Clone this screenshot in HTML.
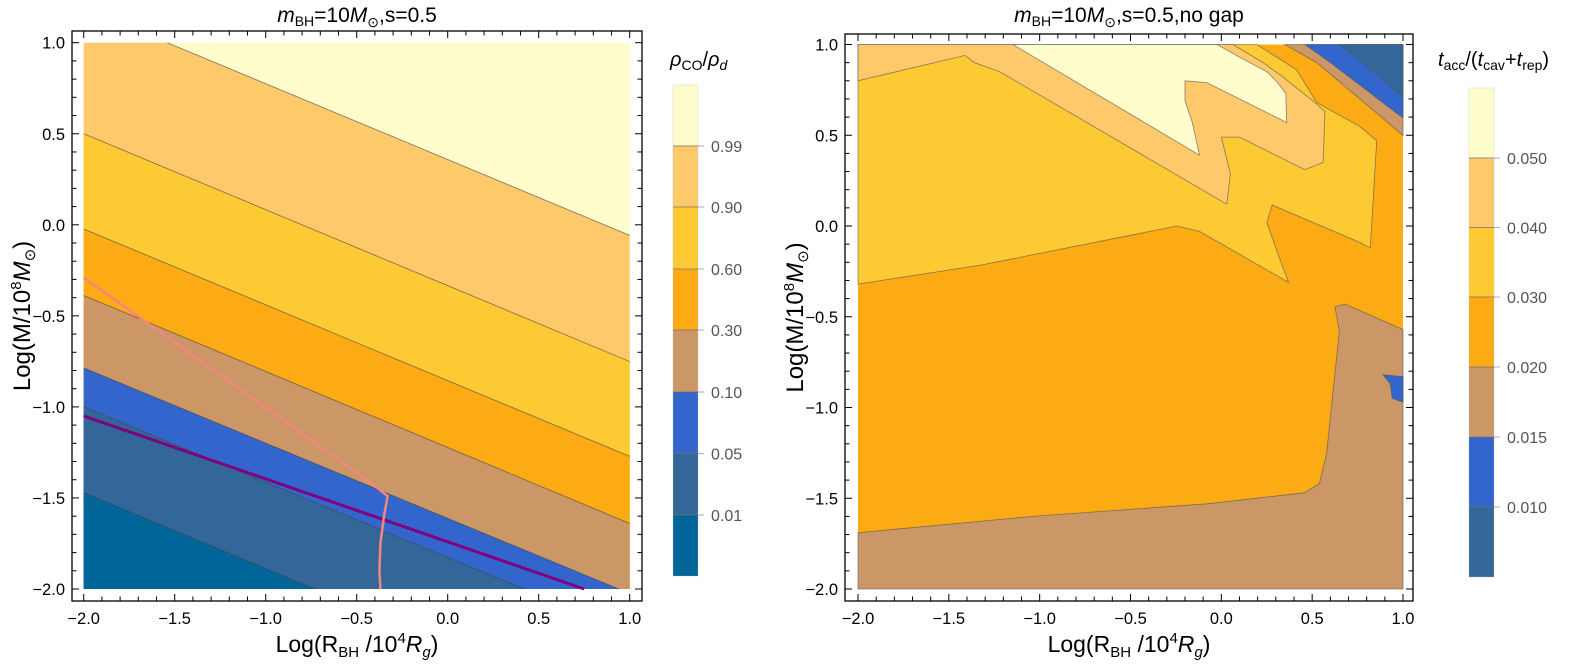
<!DOCTYPE html>
<html><head><meta charset="utf-8"><style>
html,body{margin:0;padding:0;background:#fff;}
svg{display:block;font-family:"Liberation Sans",sans-serif;}
</style></head><body>
<svg id="chart" width="1570" height="664" viewBox="0 0 1570 664" xmlns="http://www.w3.org/2000/svg">
<g id="left"></g>
<g id="right"></g>
</svg>
<script>
// ---------- data ----------
const levelsLeft = ["0.99","0.90","0.60","0.30","0.10","0.05","0.01"];
const levelsRight = ["0.050","0.040","0.030","0.020","0.015","0.010"];
const colorsLeft = ["#fffdcb","#fec96b","#fdca33","#fdab14","#cc9767","#3366cc","#336699","#006699"];
const colorsRight = ["#fffdcb","#fec96b","#fdca33","#fdab14","#cc9767","#3366cc","#336699"];
const xTicks = [-2.0,-1.5,-1.0,-0.5,0.0,0.5,1.0];
const yTicks = [-2.0,-1.5,-1.0,-0.5,0.0,0.5,1.0];
// left panel boundary lines (start point, end point) in data coords, top -> bottom
const leftBoundStart = [[-1.54,1.0],[-2,0.50],[-2,-0.023],[-2,-0.388],[-2,-0.786],[-2,-1.0],[-2,-1.47]];
const leftBoundEnd   = [[1,-0.058],[1,-0.751],[1,-1.272],[1,-1.64],[0.94,-2],[0.42,-2],[-0.73,-2]];
const purpleLine = [[-2,-1.05],[0.75,-2]];
const pinkLine = [[-2,-0.29],[-1.2,-0.86],[-0.6,-1.29],[-0.38,-1.45],[-0.33,-1.49],[-0.35,-1.6],[-0.37,-1.75],[-0.375,-1.9],[-0.37,-2]];
// right panel regions (data coords), drawn over orange base
const rTan = [[-2,-2],[1,-2],[1,-0.57],[0.68,-0.43],[0.625,-0.445],[0.65,-0.58],[0.62,-0.86],[0.58,-1.25],[0.54,-1.42],[0.456,-1.47],[-0.07,-1.53],[-1.04,-1.6],[-2,-1.69]];
const rBlueSmall = [[0.89,-0.82],[1,-0.83],[1,-0.97],[0.94,-0.95],[0.93,-0.87]];
const rGold = [[-2,-0.32],[-2,1],[0.195,1],[0.415,0.86],[0.525,0.68],[0.76,0.55],[0.855,0.47],[0.82,-0.12],[0.76,-0.09],[0.28,0.115],[0.25,0.02],[0.31,-0.15],[0.37,-0.31],[-0.12,-0.03],[-0.245,0.0],[-1.32,-0.215]];
const rLight = [[-2,1],[0.064,1],[0.23,0.9],[0.34,0.82],[0.515,0.68],[0.57,0.63],[0.56,0.35],[0.46,0.31],[0.1,0.49],[0.0,0.49],[0.05,0.29],[0.03,0.12],[-1.22,0.85],[-1.36,0.9],[-1.41,0.94],[-2,0.8]];
const rPale = [[-1.147,1],[-0.024,1],[0.1,0.93],[0.25,0.85],[0.31,0.79],[0.355,0.73],[0.36,0.57],[-0.08,0.79],[-0.2,0.8],[-0.2,0.69],[-0.16,0.57],[-0.12,0.39]];
const rTopTan = [[0.35,1],[1,1],[1,0.5],[0.525,0.9]];
const rTopBlue = [[0.46,1],[1,1],[1,0.595],[0.6,0.9]];
const rTopSteel = [[0.65,1],[1,1],[1,0.71],[0.8,0.88]];

const NS="http://www.w3.org/2000/svg";
function mk(parent,tag,attrs){const e=document.createElementNS(NS,tag);for(const k in attrs)e.setAttribute(k,attrs[k]);parent.appendChild(e);return e;}

function makeAxes(P){
  P.sx=v=>P.x0+(v+2)/3*(P.x1-P.x0);
  P.sy=v=>P.y1-(v+2)/3*(P.y1-P.y0);
  return P;
}
const L=makeAxes({x0:83.7,x1:629.7,y0:42.7,y1:589,fx0:72,fx1:642,fy0:31,fy1:601});
const R=makeAxes({x0:858,x1:1403,y0:44.5,y1:589,fx0:845,fx1:1413,fy0:34,fy1:601});

function pts(P,arr){return arr.map(p=>P.sx(p[0]).toFixed(1)+","+P.sy(p[1]).toFixed(1)).join(" ");}

function region(g,P,arr,color,name){
  const e=mk(g,"polygon",{points:pts(P,arr),fill:color,stroke:"#555",'stroke-width':0.8,'stroke-opacity':0.7});
  
  
  return e;
}

function frame(g,P,title){
  const f=mk(g,"rect",{x:P.fx0,y:P.fy0,width:P.fx1-P.fx0,height:P.fy1-P.fy0,fill:"none",stroke:"#000",'stroke-width':1.3});
  
  
  for(let i=0;i<=30;i++){
    const v=-2+i*0.1; const maj=(i%5===0); const len=maj?7:4.5;
    const x=P.sx(v), y=P.sy(v);
    mk(g,"line",{x1:x,y1:P.fy1,x2:x,y2:P.fy1-len,stroke:"#000",'stroke-width':1});
    mk(g,"line",{x1:x,y1:P.fy0,x2:x,y2:P.fy0+len,stroke:"#000",'stroke-width':1});
    mk(g,"line",{x1:P.fx0,y1:y,x2:P.fx0+len,y2:y,stroke:"#000",'stroke-width':1});
    mk(g,"line",{x1:P.fx1,y1:y,x2:P.fx1-len,y2:y,stroke:"#000",'stroke-width':1});
  }
  xTicks.forEach(v=>{
    const t=mk(g,"text",{x:P.sx(v),y:P.fy1+23,'text-anchor':'middle','font-size':16.5,fill:"#000"});
    t.textContent=(v<0?"\u2212":"")+Math.abs(v).toFixed(1);
    
    
  });
  yTicks.forEach(v=>{
    const t=mk(g,"text",{x:P.fx0-7,y:P.sy(v)+6,'text-anchor':'end','font-size':16.5,fill:"#000"});
    t.textContent=(v<0?"\u2212":"")+Math.abs(v).toFixed(1);
    
    
  });
  const cx=(P.fx0+P.fx1)/2;
  const tt=mk(g,"text",{x:cx,y:22,'text-anchor':'middle','font-size':21,fill:"#000"});
  tt.innerHTML=title;
  
  
  const xl=mk(g,"text",{x:cx,y:652,'text-anchor':'middle','font-size':23,fill:"#000"});
  xl.innerHTML='Log(R<tspan font-size="15" dy="5">BH</tspan><tspan dy="-5"> /10</tspan><tspan font-size="15" dy="-9">4</tspan><tspan dy="9" font-style="italic">R</tspan><tspan font-size="15" dy="5" font-style="italic">g</tspan><tspan dy="-5">)</tspan>';
  
  
  const yx=P.fx0-42, yy=(P.fy0+P.fy1)/2;
  const yl=mk(g,"text",{x:yx,y:yy,'text-anchor':'middle','font-size':24,fill:"#000",transform:`rotate(-90 ${yx} ${yy})`});
  yl.innerHTML='Log(M/10<tspan font-size="15" dy="-9">8</tspan><tspan dy="9" font-style="italic">M</tspan><tspan font-size="15" dy="5">\u2299</tspan><tspan dy="-5">)</tspan>';
  
  
}

function colorbar(g,x,top,bot,bounds,labels,colors,title,tx){
  const ys=[top,...bounds,bot];
  for(let i=0;i<colors.length;i++){
    const r=mk(g,"rect",{x:x,y:ys[i],width:25,height:ys[i+1]-ys[i],fill:colors[i],stroke:"#bbb",'stroke-width':0.3});
    
    
  }
  bounds.forEach((b,i)=>{
    mk(g,"line",{x1:x,y1:b,x2:x+25,y2:b,stroke:"#555",'stroke-width':0.8,'stroke-opacity':0.7});
    mk(g,"line",{x1:x+25,y1:b,x2:x+31,y2:b,stroke:"#999",'stroke-width':0.8});
    const t=mk(g,"text",{x:x+38,y:b+6,'font-size':16,fill:"#555"});
    t.textContent=labels[i];
    
    
  });
  const ct=mk(g,"text",{x:tx,y:66,'font-size':20,fill:"#000"});
  ct.innerHTML=title;
  
  
}

// ---------- left panel ----------
const gl=document.getElementById('left');
const bgL=mk(gl,"rect",{x:L.x0,y:L.y0,width:L.x1-L.x0,height:L.y1-L.y0,fill:colorsLeft[0]});


leftBoundStart.forEach((s,i)=>{
  const e=leftBoundEnd[i];
  const poly=[s,e];
  if(e[0]>=1) poly.push([1,-2]);
  poly.push([-2,-2]);
  if(s[0]>-2) poly.push([-2,1]);
  const el=mk(gl,"polygon",{points:pts(L,poly),fill:colorsLeft[i+1],stroke:"none"});
  
  
  const ln=mk(gl,"line",{x1:L.sx(s[0]),y1:L.sy(s[1]),x2:L.sx(e[0]),y2:L.sy(e[1]),stroke:"#444",'stroke-width':0.8,'stroke-opacity':0.7});
  
  
});
const pl=mk(gl,"polyline",{points:pts(L,purpleLine),fill:"none",stroke:"#800080",'stroke-width':3});


const pk=mk(gl,"polyline",{points:pts(L,pinkLine),fill:"none",stroke:"#f4877f",'stroke-width':2.5,'stroke-linejoin':'round'});


frame(gl,L,'<tspan font-style="italic">m</tspan><tspan font-size="14" dy="4">BH</tspan><tspan dy="-4">=10</tspan><tspan font-style="italic">M</tspan><tspan font-size="14" dy="5">\u2299</tspan><tspan dy="-5">,s=0.5</tspan>');
colorbar(gl,673,85,576,[146,207,269,330,392,453.6,515],levelsLeft,colorsLeft,'<tspan font-style="italic">\u03c1</tspan><tspan font-size="14" dy="4">CO</tspan><tspan dy="-4">/</tspan><tspan font-style="italic">\u03c1</tspan><tspan font-size="14" dy="4" font-style="italic">d</tspan>',670);

// ---------- right panel ----------
const gr=document.getElementById('right');
const bgR=mk(gr,"rect",{x:R.x0,y:R.y0,width:R.x1-R.x0,height:R.y1-R.y0,fill:colorsRight[3]});


region(gr,R,rTan,colorsRight[4],'region-tan');
region(gr,R,rBlueSmall,colorsRight[5],'region-blue-small');
region(gr,R,rGold,colorsRight[2],'region-gold');
region(gr,R,rLight,colorsRight[1],'region-light-orange');
region(gr,R,rPale,colorsRight[0],'region-pale');
region(gr,R,rTopTan,colorsRight[4],'region-top-tan');
region(gr,R,rTopBlue,colorsRight[5],'region-top-blue');
region(gr,R,rTopSteel,colorsRight[6],'region-top-steel');
frame(gr,R,'<tspan font-style="italic">m</tspan><tspan font-size="14" dy="4">BH</tspan><tspan dy="-4">=10</tspan><tspan font-style="italic">M</tspan><tspan font-size="14" dy="5">\u2299</tspan><tspan dy="-5">,s=0.5,no gap</tspan>');
colorbar(gr,1469,88,577,[158,227.5,297,367,437,507],levelsRight,colorsRight,'<tspan font-style="italic">t</tspan><tspan font-size="14" dy="4">acc</tspan><tspan dy="-4">/(</tspan><tspan font-style="italic">t</tspan><tspan font-size="14" dy="4">cav</tspan><tspan dy="-4">+</tspan><tspan font-style="italic">t</tspan><tspan font-size="14" dy="4">rep</tspan><tspan dy="-4">)</tspan>',1438);
</script>
</body></html>
